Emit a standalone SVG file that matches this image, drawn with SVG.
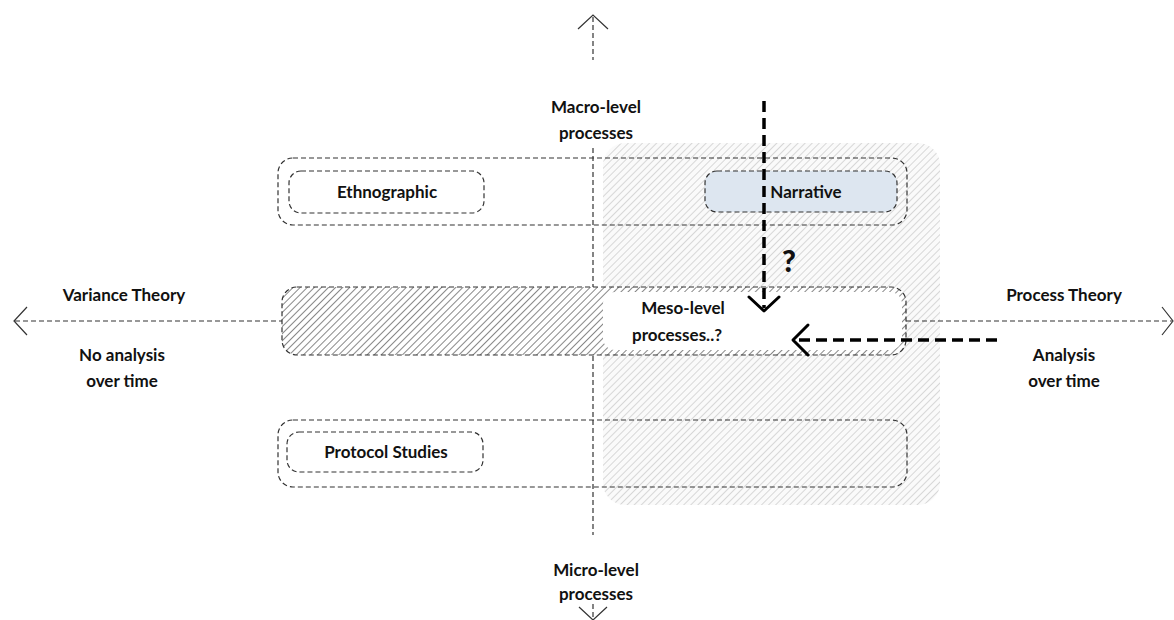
<svg xmlns="http://www.w3.org/2000/svg" width="1174" height="620" viewBox="0 0 1174 620">
<style>
.t{font-family:Lato,"Liberation Sans",sans-serif;font-weight:bold;font-size:17px;fill:#111;text-anchor:middle}
.thin{fill:none;stroke:#333;stroke-width:1.2;stroke-dasharray:5 3}
.thick{fill:none;stroke:#000;stroke-width:3.5;stroke-dasharray:11 6}
.head{fill:none;stroke:#000;stroke-width:3;stroke-linecap:round;stroke-linejoin:round}
.ax{fill:none;stroke:#333;stroke-width:1.2}
</style>
<defs>
<pattern id="hl" width="5" height="5" patternUnits="userSpaceOnUse" patternTransform="rotate(45)">
<rect width="5" height="5" fill="#fafafa"/>
<line x1="0" y1="0" x2="0" y2="5" stroke="#c8c8c8" stroke-width="1.4"/>
</pattern>
<pattern id="hd" width="5" height="5" patternUnits="userSpaceOnUse" patternTransform="rotate(45)">
<rect width="5" height="5" fill="#fff"/>
<line x1="0" y1="0" x2="0" y2="5" stroke="#555" stroke-width="1.4"/>
</pattern>
</defs>
<rect width="1174" height="620" fill="#fff"/>
<g id="process-region">
<rect x="603" y="143" width="337" height="362" rx="22" fill="url(#hl)"/>
</g>
<g id="axes">
<line class="thin" x1="593" y1="17" x2="593" y2="60"/>
<polyline class="ax" points="578,29 593,15 608,29"/>
<line class="thin" x1="593" y1="148" x2="593" y2="535"/>
<line class="thin" x1="593" y1="604" x2="593" y2="618"/>
<polyline class="ax" points="579,607 593,620 607,607"/>
<line class="thin" x1="15" y1="321" x2="282" y2="321"/>
<polyline class="ax" points="27,307 14,321 27,335"/>
<line class="thin" x1="906" y1="321" x2="1172" y2="321"/>
<polyline class="ax" points="1162,307 1173,321 1162,335"/>
</g>
<g id="row-macro">
<rect class="thin" x="278" y="158" width="629" height="67" rx="15"/>
</g>
<g id="ethnographic">
<rect class="thin" x="289" y="171" width="195" height="42" rx="12"/>
<text class="t" x="387" y="198">Ethnographic</text>
</g>
<g id="narrative">
<rect class="thin" x="705" y="171" width="192" height="41" rx="12" style="fill:#dde6f0"/>
<text class="t" x="806" y="198">Narrative</text>
</g>
<g id="meso">
<rect x="282" y="287" width="624" height="68" rx="15" fill="url(#hd)" stroke="none"/>
<rect x="603" y="292" width="299" height="58" rx="12" fill="#fff"/>
<rect class="thin" x="282" y="287" width="624" height="68" rx="15"/>
<text class="t" x="683" y="314">Meso-level</text>
<text class="t" x="677" y="341">processes..?</text>
</g>
<g id="row-micro">
<rect class="thin" x="278" y="420" width="629" height="67" rx="15"/>
</g>
<g id="protocol">
<rect class="thin" x="287" y="432" width="196" height="40" rx="12" style="fill:#fff"/>
<text class="t" x="386" y="458">Protocol Studies</text>
</g>
<g id="labels">
<text class="t" x="596" y="113">Macro-level</text>
<text class="t" x="596" y="139">processes</text>
<text class="t" x="596" y="576">Micro-level</text>
<text class="t" x="596" y="600">processes</text>
<text class="t" x="124" y="301">Variance Theory</text>
<text class="t" x="122" y="361">No analysis</text>
<text class="t" x="122" y="387">over time</text>
<text class="t" x="1064" y="301">Process Theory</text>
<text class="t" x="1064" y="361">Analysis</text>
<text class="t" x="1064" y="387">over time</text>
<text x="789" y="272" style="font-family:Lato,'Liberation Sans',sans-serif;font-weight:900;font-size:30px;fill:#111;text-anchor:middle">?</text>
</g>
<g id="connectors">
<line class="thick" x1="764" y1="101" x2="764" y2="308"/>
<polyline class="head" points="749,297 764,311 779,297"/>
<line class="thick" x1="997" y1="340" x2="797" y2="340"/>
<polyline class="head" points="808,325 793,340 808,355"/>
</g>
</svg>
